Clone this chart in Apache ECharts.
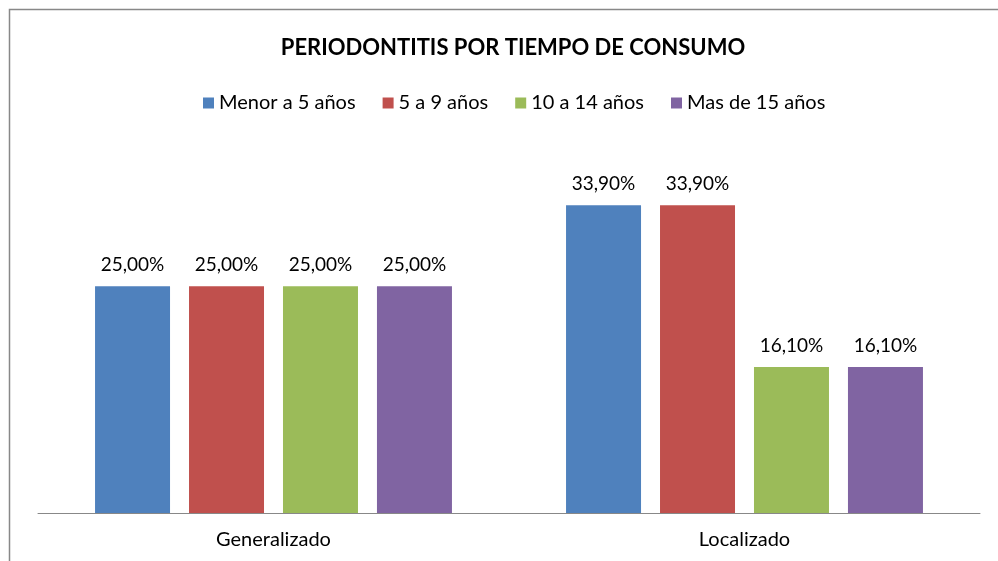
<!DOCTYPE html>
<html>
<head>
<meta charset="utf-8">
<script src="https://cdn.jsdelivr.net/npm/echarts@6/dist/echarts.min.js"></script>
<style>
  html, body { margin: 0; padding: 0; background: #fff; }
  #chart { width: 998px; height: 561px; }
</style>
</head>
<body>
<div id="chart"></div>
<script>
  // datos del gráfico
  const categorias = ['Generalizado', 'Localizado']
  const series = ['Menor a 5 años', '5 a 9 años', '10 a 14 años', 'Mas de 15 años']
  const menor5 = [25.0, 33.9]
  const de5a9 = [25.0, 33.9]
  const de10a14 = [25.0, 16.1]
  const mas15 = [25.0, 16.1]
  const colores = ['#4f81bd', '#c0504d', '#9bbb59', '#8064a2']

  const valores = [menor5, de5a9, de10a14, mas15]
  const fuente = 'Lato, "Open Sans", sans-serif'

  let myChart = echarts.init(document.getElementById('chart'), null, { width: 998, height: 561 })

  let option = {
    animation: false,
    textStyle: { fontFamily: fuente },
    title: {
      text: 'PERIODONTITIS POR TIEMPO DE CONSUMO',
      left: 508,
      textAlign: 'center',
      top: 32,
      textStyle: { fontSize: 22, fontWeight: 'bold', color: '#000', fontFamily: fuente }
    },
    legend: {
      data: series,
      left: 198,
      top: 88,
      itemWidth: 11,
      itemHeight: 11,
      itemGap: 27,
      icon: 'rect',
      textStyle: { fontSize: 20, color: '#000', fontFamily: fuente }
    },
    graphic: [{
      type: 'rect',
      shape: { x: 9.5, y: 9.5, width: 1100, height: 700 },
      style: { fill: 'none', stroke: '#888', lineWidth: 1.5 },
      silent: true
    }],
    grid: { left: 38, right: 18, top: 150, bottom: 48 },
    xAxis: {
      type: 'category',
      data: categorias,
      axisLine: { lineStyle: { color: '#888', width: 1 } },
      axisTick: { show: false },
      axisLabel: { fontSize: 20, color: '#000', margin: 17, fontFamily: fuente }
    },
    yAxis: {
      type: 'value',
      min: 0,
      max: 40,
      show: false,
      splitLine: { show: false }
    },
    series: series.map((nombre, i) => ({
      name: nombre,
      type: 'bar',
      data: valores[i],
      barWidth: 75,
      barGap: '25.3%',
      itemStyle: { color: colores[i] },
      label: {
        show: true,
        position: 'top',
        distance: 12,
        fontSize: 19,
        color: '#000',
        fontFamily: fuente,
        formatter: p => p.value.toFixed(2).replace('.', ',') + '%'
      }
    }))
  }
  myChart.setOption(option)
</script>
</body>
</html>
